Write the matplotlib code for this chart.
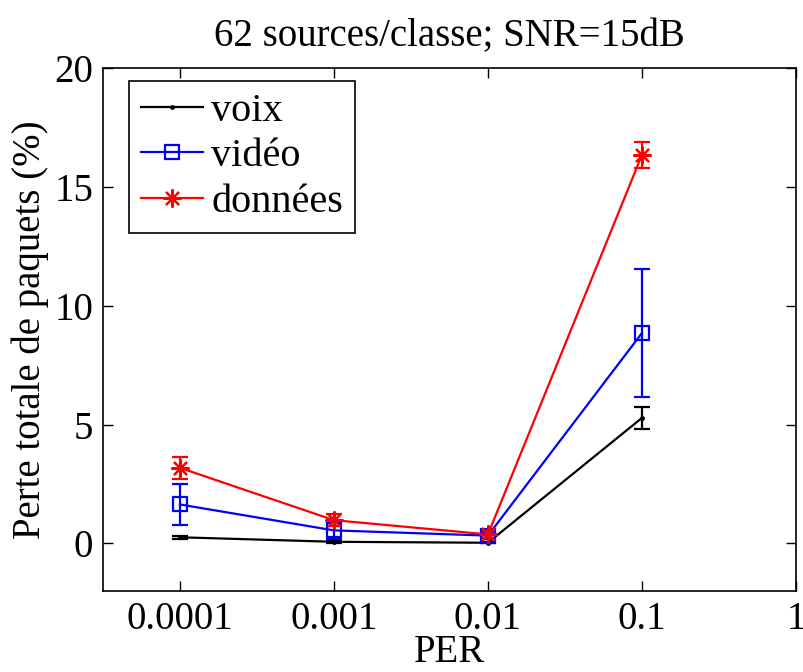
import numpy as np
import matplotlib
matplotlib.use("Agg")
import matplotlib.pyplot as plt

# PER values and packet loss (%) per traffic class
per = [0.0001, 0.001, 0.01, 0.1]

voix = [0.26, 0.07, 0.03, 5.28]
voix_err = [0.07, 0.05, 0.03, 0.46]

video = [1.64, 0.55, 0.33, 8.85]
video_err = [0.85, 0.35, 0.15, 2.71]

donnees = [3.18, 0.98, 0.38, 16.34]
donnees_err = [0.45, 0.26, 0.15, 0.53]

xticks = [0.0001, 0.001, 0.01, 0.1, 1]
xticklabels = ["0.0001", "0.001", "0.01", "0.1", "1"]
yticks = [0, 5, 10, 15, 20]

plt.rcParams["font.family"] = ["Liberation Serif", "DejaVu Serif"]
plt.rcParams["font.size"] = 28

fig = plt.figure(figsize=(8.04, 6.72), dpi=100)
ax = fig.add_axes([0.128, 0.1205, 0.862, 0.7785])

lw = 1.6
c1 = ax.errorbar(per, voix, yerr=voix_err, color="black", marker=".", markersize=5,
                 linewidth=lw, capsize=6, capthick=lw, elinewidth=lw)
c2 = ax.errorbar(per, video, yerr=video_err, color="#0000ff", marker="s", markersize=10,
                 markerfacecolor="none", markeredgewidth=lw,
                 linewidth=lw, capsize=6, capthick=lw, elinewidth=lw)
c3 = ax.errorbar(per, donnees, yerr=donnees_err, color="#ff0000", marker=(8, 2, 0), markersize=13,
                 markeredgewidth=lw,
                 linewidth=lw, capsize=6, capthick=lw, elinewidth=lw)

ax.set_xscale("log")
ax.set_xlim(10 ** -4.5, 1)
ax.set_ylim(-2, 20)
ax.set_xticks(xticks)
ax.set_xticklabels(xticklabels)
ax.xaxis.set_minor_locator(matplotlib.ticker.NullLocator())
ax.set_yticks(yticks)
ax.tick_params(direction="in", length=7, width=1, top=True, right=True, pad=7)
for s in ax.spines.values():
    s.set_linewidth(1.2)

ax.set_title("62 sources/classe; SNR=15dB", fontsize=28, pad=16)
ax.set_xlabel("PER", labelpad=-3)
ax.set_ylabel("Perte totale de paquets (%)", labelpad=4)

# legend shows only the line + marker, without error bars
leg = ax.legend([c1[0], c2[0], c3[0]], ["voix", "vidéo", "données"],
                loc="upper left", bbox_to_anchor=(0.0375, 0.975),
                fancybox=False, edgecolor="black", framealpha=1,
                handlelength=1.55, handletextpad=0.2, borderpad=0.3, labelspacing=0.2,
                borderaxespad=0, fontsize=29)
leg.get_frame().set_linewidth(1.2)

fig.savefig("out.png", dpi=100)
